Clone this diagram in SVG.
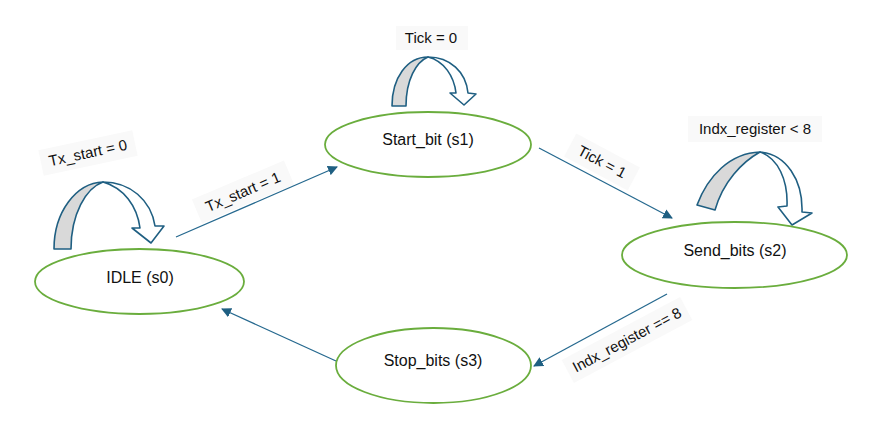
<svg xmlns="http://www.w3.org/2000/svg" width="870" height="443" viewBox="0 0 870 443">
<defs>
<style>
.node{fill:#ffffff;stroke:#6aad3d;stroke-width:1.8}
.ntext{font-family:"Liberation Sans",Arial,sans-serif;font-size:16px;fill:#111;text-anchor:middle}
.ltext{font-family:"Liberation Sans",Arial,sans-serif;font-size:15px;fill:#111;text-anchor:middle}
.edge{stroke:#26698f;stroke-width:1.3;fill:none;marker-end:url(#ah)}
.lbg{fill:#f9f9f9}
.back{fill:#d9d9d9;stroke:#1f5f82;stroke-width:1.6;stroke-linejoin:round}
.front{fill:#ffffff;stroke:#1f5f82;stroke-width:1.6;stroke-linejoin:round}
</style>
<marker id="ah" viewBox="0 0 10 10" refX="9" refY="5" markerWidth="10" markerHeight="10" markerUnits="userSpaceOnUse" orient="auto">
<path d="M0,0 L10,5 L0,10 Z" fill="#1f5f82"/>
</marker>
</defs>
<rect width="870" height="443" fill="#ffffff"/>

<g id="labels-bg">
<rect class="lbg" x="40" y="140" width="96" height="26" transform="rotate(-12 88 153)"/>
<rect class="lbg" x="193" y="179" width="100" height="26" transform="rotate(-23 243 192)"/>
<rect class="lbg" x="396" y="26" width="72" height="24"/>
<rect class="lbg" x="566" y="149" width="72" height="26" transform="rotate(28 602 162)"/>
<rect class="lbg" x="688" y="116" width="134" height="26"/>
<rect class="lbg" x="560" y="327" width="134" height="26" transform="rotate(-28 627 340)"/>
</g>

<g id="connectors">
<line class="edge" x1="176" y1="237" x2="337" y2="167"/>
<line class="edge" x1="539" y1="148" x2="672" y2="218"/>
<line class="edge" x1="667" y1="294" x2="534" y2="366"/>
<line class="edge" x1="336" y1="361" x2="222" y2="309"/>
</g>

<g id="loop-s0">
<path class="back" d="M54,249 C54,212 76,183 103,182 C86,188 71,214 71,249 Z"/>
<path class="front" d="M103,182 C130,182 151,200 155,226 L164,226 L151,243 L132,228 L140,228 C137,206 124,188 103,182 Z"/>
</g>
<g id="loop-s1">
<path class="back" d="M392,106 C392,78 407,57 428,57 C416,62 406,80 406,106 Z"/>
<path class="front" d="M428,57 C450,57 466,72 468,93 L476,94 L464,105 L450,93 L456,93 C454,76 444,61 428,57 Z"/>
</g>
<g id="loop-s2">
<path class="back" d="M697,205 C708,176 730,153 760,152 C742,162 723,182 715,210 Z"/>
<path class="front" d="M760,152 C786,154 803,180 802,212 L812,213 L792,225 L778,207 L787,206 C788,180 778,158 760,152 Z"/>
</g>

<g id="s0">
<ellipse class="node" cx="139.5" cy="281.5" rx="104.5" ry="32.5"/>
<text class="ntext" x="140" y="283">IDLE (s0)</text>
</g>
<g id="s1">
<ellipse class="node" cx="428" cy="144.5" rx="103" ry="32.5"/>
<text class="ntext" x="428" y="145">Start_bit (s1)</text>
</g>
<g id="s2">
<ellipse class="node" cx="734.5" cy="255" rx="112.5" ry="33"/>
<text class="ntext" x="735" y="256">Send_bits (s2)</text>
</g>
<g id="s3">
<ellipse class="node" cx="433.5" cy="365.5" rx="97.5" ry="37.5"/>
<text class="ntext" x="433" y="366">Stop_bits (s3)</text>
</g>

<g id="labels">
<text class="ltext" x="88" y="158" transform="rotate(-12 88 153)">Tx_start = 0</text>
<text class="ltext" x="243" y="197" transform="rotate(-23 243 192)">Tx_start = 1</text>
<text class="ltext" x="431" y="43">Tick = 0</text>
<text class="ltext" x="602" y="167" transform="rotate(28 602 162)">Tick = 1</text>
<text class="ltext" x="755" y="134">Indx_register &lt; 8</text>
<text class="ltext" x="627" y="345" transform="rotate(-28 627 340)">Indx_register == 8</text>
</g>
</svg>
